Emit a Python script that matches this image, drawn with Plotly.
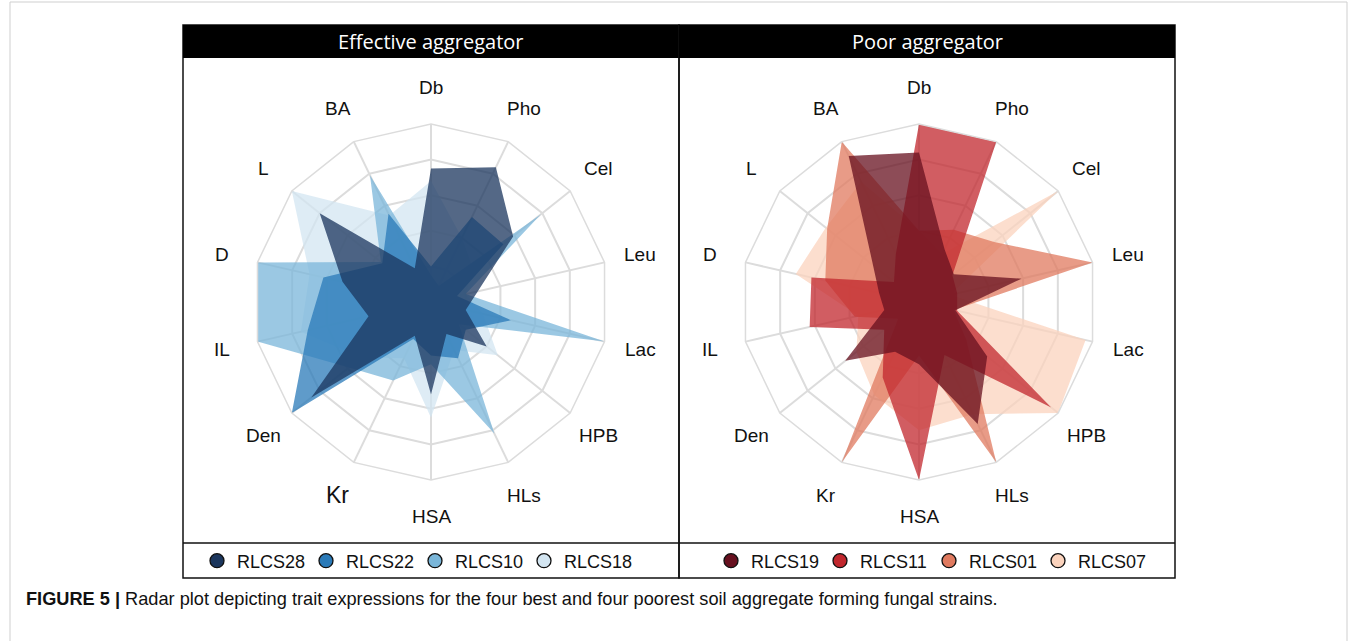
import math
import plotly.graph_objects as go

# ---------------- data ----------------
categories = ["Db", "Pho", "Cel", "Leu", "Lac", "HPB", "HLs", "HSA", "Kr", "Den", "IL", "D", "L", "BA"]

effective_names = ["RLCS28", "RLCS22", "RLCS10", "RLCS18"]
rlcs28 = [0.75, 0.84, 0.59, 0.27, 0.20, 0.40, 0.20, 0.52, 0.21, 0.86, 0.36, 0.51, 0.80, 0.21]
rlcs22 = [0.20, 0.53, 0.52, 0.15, 0.46, 0.25, 0.35, 0.30, 0.23, 1.00, 0.71, 0.62, 0.35, 0.55]
rlcs10 = [0.15, 0.10, 0.79, 0.20, 1.00, 0.20, 0.82, 0.35, 0.49, 0.59, 1.00, 1.00, 0.36, 0.79]
rlcs18 = [0.68, 0.40, 0.30, 0.20, 0.30, 0.48, 0.30, 0.65, 0.35, 0.50, 0.75, 0.70, 1.00, 0.54]
effective_values = [rlcs28, rlcs22, rlcs10, rlcs18]
effective_colors = ["#1b365d", "#2a7ab8", "#7ab6d9", "#d3e5f1"]

poor_names = ["RLCS19", "RLCS11", "RLCS01", "RLCS07"]
rlcs19 = [0.84, 0.33, 0.25, 0.59, 0.21, 0.49, 0.76, 0.35, 0.31, 0.53, 0.20, 0.23, 0.33, 0.91]
rlcs11 = [1.00, 1.00, 0.24, 0.22, 0.22, 0.95, 0.33, 1.00, 0.47, 0.25, 0.63, 0.62, 0.18, 0.30]
rlcs01 = [0.40, 0.45, 0.54, 1.00, 0.20, 0.34, 1.00, 0.30, 1.00, 0.15, 0.37, 0.54, 0.66, 1.00]
rlcs07 = [0.40, 0.30, 1.00, 0.18, 0.96, 1.00, 0.70, 0.72, 0.58, 0.45, 0.35, 0.71, 0.67, 0.75]
poor_values = [rlcs19, rlcs11, rlcs01, rlcs07]
poor_colors = ["#67101f", "#c1272d", "#e07a5f", "#fbd3bd"]

grid_levels = [0.2, 0.4, 0.6, 0.8, 1.0]
panel_titles = ["Effective aggregator", "Poor aggregator"]
caption_bold = "FIGURE 5 |"
caption_text = "Radar plot depicting trait expressions for the four best and four poorest soil aggregate forming fungal strains."

# ---------------- geometry helpers ----------------
W, H = 1357, 641
R_PX = 178          # radius of the outer ring in pixels
CY_PX = 302         # vertical centre of both radars
CENTERS_PX = [431, 919]
LABEL_R = 1.205     # axis labels sit just outside the outer ring (radial units)

def px(x):
    return x / W
def py(y):
    return 1 - y / H

FILL_ALPHA = 0.75

def rgba(hex_color, a):
    h = hex_color.lstrip("#")
    r, g, b = int(h[0:2], 16), int(h[2:4], 16), int(h[4:6], 16)
    return f"rgba({r},{g},{b},{a})"

fig = go.Figure()

panels = [
    ("polar", "legend", effective_names, effective_values, effective_colors),
    ("polar2", "legend2", poor_names, poor_values, poor_colors),
]

for subplot, legend_id, names, values, colors in panels:
    # draw palest first so darkest ends on top
    for name, vals, col in reversed(list(zip(names, values, colors))):
        fig.add_trace(go.Scatterpolar(
            r=vals + [vals[0]],
            theta=categories + [categories[0]],
            mode="lines",
            fill="toself",
            fillcolor=rgba(col, FILL_ALPHA),
            line=dict(width=0, color=rgba(col, 0)),
            name=name,
            subplot=subplot,
            showlegend=False,
            hoverinfo="name+r+theta",
        ))
    # legend entries (circle markers)
    for name, col in zip(names, colors):
        fig.add_trace(go.Scatterpolar(
            r=[None], theta=[None], mode="markers",
            marker=dict(symbol="circle", size=14, color=col, line=dict(color="#111111", width=1.3)),
            name=name, subplot=subplot, legend=legend_id, showlegend=True,
        ))

grid_col = "#dcdcdc"

def polar_layout(cx):
    return dict(
        domain=dict(x=[px(cx - R_PX), px(cx + R_PX)], y=[py(CY_PX + R_PX), py(CY_PX - R_PX)]),
        bgcolor="rgba(0,0,0,0)",
        gridshape="linear",
        radialaxis=dict(
            range=[0, 1], tickmode="array", tickvals=grid_levels,
            showticklabels=False, ticks="", showline=False,
            gridcolor=grid_col, gridwidth=1.5,
        ),
        angularaxis=dict(
            type="category", categoryorder="array", categoryarray=categories,
            rotation=90, direction="clockwise",
            showticklabels=False, ticks="",
            showline=True, linecolor=grid_col, linewidth=1.5,
            gridcolor=grid_col, gridwidth=1.5,
        ),
    )

shapes = []
line_black = dict(color="#111111", width=1.5)
for x0, x1 in [(183, 679), (679, 1175)]:
    shapes.append(dict(type="rect", xref="paper", yref="paper",
                       x0=px(x0), x1=px(x1), y0=py(578), y1=py(25), line=line_black))
    shapes.append(dict(type="rect", xref="paper", yref="paper",
                       x0=px(x0), x1=px(x1), y0=py(58), y1=py(25),
                       fillcolor="#000000", line=dict(width=0)))
shapes.append(dict(type="line", xref="paper", yref="paper",
                   x0=px(183), x1=px(1175), y0=py(543), y1=py(543), line=line_black))
# outer figure frame
shapes.append(dict(type="rect", xref="paper", yref="paper",
                   x0=px(10), x1=px(1347), y0=py(660), y1=py(2),
                   line=dict(color="#cfcfcf", width=1)))

annotations = []
for cx, title in zip([431, 927], panel_titles):
    annotations.append(dict(
        text=title, x=px(cx), y=py(42), xref="paper", yref="paper",
        xanchor="center", yanchor="middle", showarrow=False,
        font=dict(family="Open Sans, sans-serif", size=20, color="#ffffff"),
    ))

# axis labels centred on each spoke, just outside the outer ring
n_cat = len(categories)
for p_idx, cx in enumerate(CENTERS_PX):
    for k, cat in enumerate(categories):
        ang = 2 * math.pi * k / n_cat
        lx = cx + LABEL_R * R_PX * math.sin(ang)
        ly = CY_PX - LABEL_R * R_PX * math.cos(ang)
        size = 23 if (p_idx == 0 and cat == "Kr") else 19
        annotations.append(dict(
            text=cat, x=px(lx), y=py(ly), xref="paper", yref="paper",
            xanchor="center", yanchor="middle", showarrow=False,
            font=dict(family="Liberation Sans, Arial, sans-serif", size=size, color="#111111"),
        ))

annotations.append(dict(
    text=f"<b>{caption_bold}</b> {caption_text}",
    x=px(24), y=py(599), xref="paper", yref="paper",
    xanchor="left", yanchor="middle", showarrow=False,
    font=dict(family="Liberation Sans, Arial, sans-serif", size=18.2, color="#111111"),
))

legend_common = dict(
    orientation="h", xanchor="left", yanchor="middle", y=py(561),
    bgcolor="rgba(0,0,0,0)", borderwidth=0,
    font=dict(family="Liberation Sans, Arial, sans-serif", size=18, color="#111111"),
    itemwidth=30, tracegroupgap=0,
    entrywidth=64, entrywidthmode="pixels",
)

fig.update_layout(
    width=W, height=H, autosize=False,
    margin=dict(l=0, r=0, t=0, b=0),
    paper_bgcolor="#ffffff", plot_bgcolor="#ffffff",
    polar=polar_layout(CENTERS_PX[0]),
    polar2=polar_layout(CENTERS_PX[1]),
    legend=dict(x=px(197), **legend_common),
    legend2=dict(x=px(711), **legend_common),
    shapes=shapes,
    annotations=annotations,
)

fig.write_html("out.html", config={"displayModeBar": False},
               post_script="document.body.style.margin='0';document.body.style.overflow='hidden';")
